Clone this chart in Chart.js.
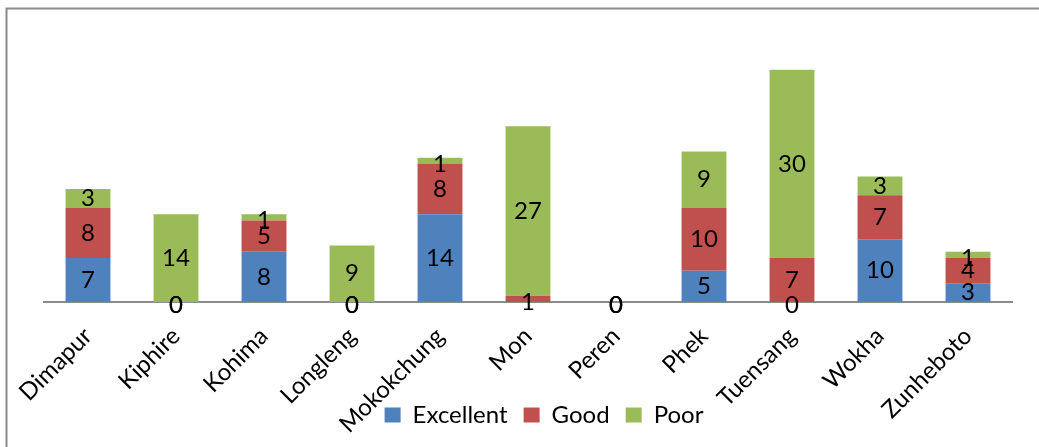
<!DOCTYPE html>
<html>
<head>
<meta charset="utf-8">
<script src="https://cdn.jsdelivr.net/npm/chart.js@4.4.1/dist/chart.umd.min.js"></script>
<style>
  html, body { margin: 0; padding: 0; background: #ffffff; }
  #wrap { width: 1039px; height: 447px; position: relative; }
</style>
</head>
<body>
<div id="wrap"><canvas id="chart" width="1039" height="447"></canvas></div>
<script>
// District names along the x axis
const districts = ['Dimapur', 'Kiphire', 'Kohima', 'Longleng', 'Mokokchung', 'Mon',
                   'Peren', 'Phek', 'Tuensang', 'Wokha', 'Zunheboto'];

// Ratings per district (null = no entry)
const excellent = [7, 0, 8, 0, 14, null, 0, 5, 0, 10, 3];
const good      = [8, 0, 5, 0, 8, 1, 0, 10, 7, 7, 4];
const poor      = [3, 14, 1, 9, 1, 27, 0, 9, 30, 3, 1];

const seriesNames = ['Excellent', 'Good', 'Poor'];
const seriesColors = ['#4F81BD', '#C0504D', '#9BBB59'];

const FONT = 'Lato, "Open Sans", sans-serif';

// Frame around the chart
const framePlugin = {
  id: 'frame',
  beforeDraw(chart) {
    const ctx = chart.ctx;
    ctx.save();
    ctx.fillStyle = '#ffffff';
    ctx.fillRect(0, 0, chart.width, chart.height);
    ctx.strokeStyle = '#8a8a8a';
    ctx.lineWidth = 2;
    ctx.strokeRect(6.5, 8.5, chart.width + 20, chart.height + 20);
    ctx.restore();
  }
};

// Let the slanted district names run down past the legend's top edge,
// and nudge the legend a little to the right
const layoutTweaks = {
  id: 'layoutTweaks',
  afterLayout(chart) {
    chart.scales.x.bottom = chart.height;
    chart.legend.left += 16;
    chart.legend.right += 16;
  }
};

// Value labels centred in each stacked segment
const valueLabels = {
  id: 'valueLabels',
  afterDatasetsDraw(chart) {
    const ctx = chart.ctx;
    ctx.save();
    ctx.font = '24px ' + FONT;
    ctx.fillStyle = '#000000';
    ctx.textAlign = 'center';
    ctx.textBaseline = 'middle';
    chart.data.datasets.forEach((ds, di) => {
      const meta = chart.getDatasetMeta(di);
      meta.data.forEach((bar, i) => {
        const v = ds.data[i];
        if (v === null || v === undefined) return;
        const p = bar.getProps(['x', 'y', 'base'], true);
        let cy = (p.y + p.base) / 2;
        if (v <= 1) cy += 3;
        ctx.fillText(String(v), p.x, cy);
      });
    });
    ctx.restore();
  }
};

function build() {
  new Chart(document.getElementById('chart'), {
    type: 'bar',
    data: {
      labels: districts,
      datasets: [excellent, good, poor].map((vals, k) => ({
        label: seriesNames[k],
        data: vals,
        backgroundColor: seriesColors[k],
        borderWidth: 0,
        barPercentage: 0.51,
        categoryPercentage: 1.0
      }))
    },
    options: {
      responsive: false,
      animation: false,
      devicePixelRatio: 1,
      layout: { padding: { left: 44, right: 27, top: 51, bottom: 10 } },
      plugins: {
        tooltip: { enabled: false },
        legend: {
          position: 'bottom',
          labels: {
            font: { family: FONT, size: 24 },
            color: '#000000',
            boxWidth: 16,
            boxHeight: 15,
            padding: 16
          }
        }
      },
      scales: {
        x: {
          stacked: true,
          grid: { display: false, drawTicks: false },
          border: { display: true, color: '#8c8c8c', width: 2 },
          ticks: {
            autoSkip: false,
            minRotation: 45,
            maxRotation: 45,
            padding: 20,
            color: '#000000',
            font: { family: FONT, size: 24 }
          },
          afterFit(scale) { scale.height = 85; }
        },
        y: {
          stacked: true,
          display: false,
          min: 0,
          max: 40
        }
      }
    },
    plugins: [framePlugin, layoutTweaks, valueLabels]
  });
}

if (document.fonts && document.fonts.load) {
  document.fonts.load('24px Lato').then(build, build);
} else {
  build();
}
</script>
</body>
</html>
